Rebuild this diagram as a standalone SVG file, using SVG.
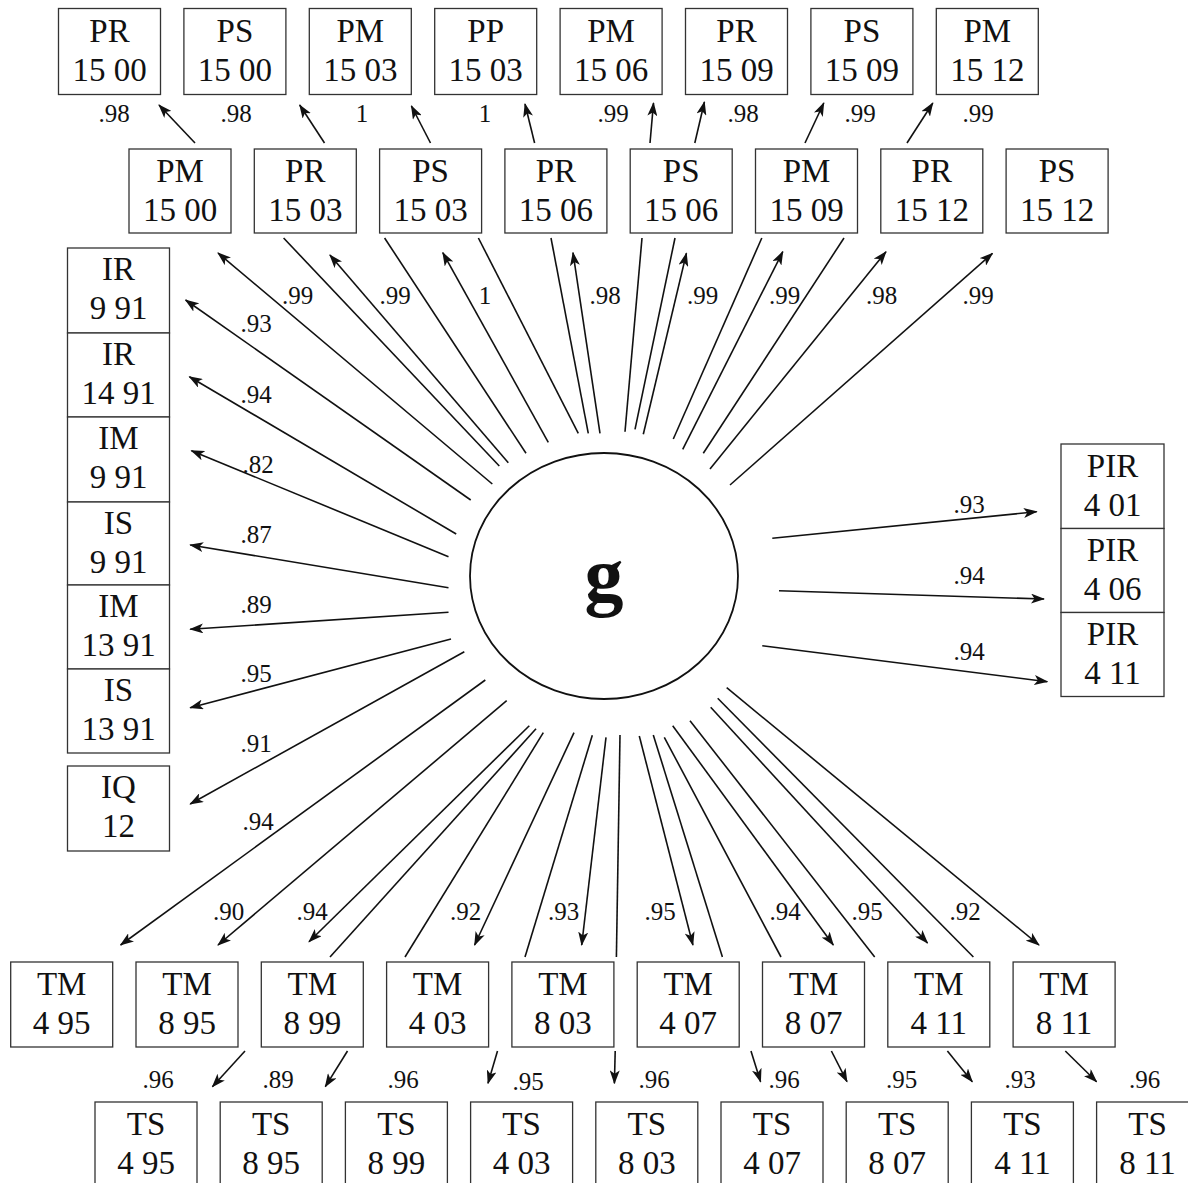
<svg xmlns="http://www.w3.org/2000/svg" width="1188" height="1183" viewBox="0 0 1188 1183">
  <style>
    .box { fill: #fff; stroke: #333; stroke-width: 1.3; }
    .nt { font-family: "Liberation Serif", "Times New Roman", serif; font-size: 33px; fill: #111; text-anchor: middle; }
    .lbl { font-family: "Liberation Serif", "Times New Roman", serif; font-size: 25px; fill: #111; text-anchor: middle; }
    .ln { stroke: #111; stroke-width: 1.6; fill: none; }
    .ar { stroke: #111; stroke-width: 1.6; fill: none; marker-end: url(#head); }
    .g { font-family: "Liberation Serif", "Times New Roman", serif; font-size: 78px; font-weight: bold; fill: #111; text-anchor: middle; }
  </style>
  <defs>
    <marker id="head" viewBox="0 0 14 10" refX="13" refY="5" markerWidth="14" markerHeight="10" markerUnits="userSpaceOnUse" orient="auto">
      <path d="M0,0 L14,5 L0,10 L3.5,5 z" fill="#111"/>
    </marker>
  </defs>
  <rect width="1188" height="1183" fill="#fff"/>

  <!-- connectors: from g outward -->
  <g id="connectors">
    <!-- up to the second top row (arrowed) and behind it (plain) -->
    <line class="ar" x1="492.3" y1="484" x2="218" y2="253"/>
    <line class="ln" x1="499.3" y1="466" x2="283.6" y2="238"/>
    <line class="ar" x1="508.3" y1="462.7" x2="329.9" y2="255"/>
    <line class="ln" x1="526" y1="453.3" x2="384.6" y2="238"/>
    <line class="ar" x1="548.3" y1="442.3" x2="442.8" y2="252.7"/>
    <line class="ln" x1="578.3" y1="433.3" x2="478.4" y2="238"/>
    <line class="ln" x1="588.3" y1="433.3" x2="551" y2="238"/>
    <line class="ar" x1="600" y1="433.3" x2="573" y2="252.7"/>
    <line class="ln" x1="625" y1="431.7" x2="642" y2="238"/>
    <line class="ln" x1="635" y1="429.3" x2="675" y2="238"/>
    <line class="ar" x1="643.3" y1="434.3" x2="686.4" y2="253.3"/>
    <line class="ln" x1="673.3" y1="439" x2="761.8" y2="238"/>
    <line class="ar" x1="682.7" y1="449.3" x2="782.8" y2="251.7"/>
    <line class="ln" x1="703.3" y1="453.3" x2="844" y2="238"/>
    <line class="ar" x1="710" y1="469" x2="886" y2="251.7"/>
    <line class="ar" x1="730" y1="485" x2="992.5" y2="253.3"/>
    <!-- short arrows to the top row -->
    <line class="ar" x1="195" y1="143" x2="159" y2="105"/>
    <line class="ar" x1="324.5" y1="143" x2="299.7" y2="105"/>
    <line class="ar" x1="430.5" y1="143" x2="411.4" y2="106"/>
    <line class="ar" x1="534.6" y1="143" x2="525" y2="104"/>
    <line class="ar" x1="650" y1="143" x2="653.5" y2="103"/>
    <line class="ar" x1="694.8" y1="143" x2="704.4" y2="102"/>
    <line class="ar" x1="805" y1="143" x2="823.8" y2="103"/>
    <line class="ar" x1="907" y1="143" x2="932.8" y2="103"/>
    <!-- left column -->
    <line class="ar" x1="470.7" y1="500" x2="185.6" y2="300"/>
    <line class="ar" x1="456.2" y1="534" x2="189.4" y2="376.7"/>
    <line class="ar" x1="448.5" y1="556.7" x2="191.4" y2="450.7"/>
    <line class="ar" x1="448.5" y1="587.7" x2="190.2" y2="545"/>
    <line class="ar" x1="448.5" y1="612.3" x2="190.2" y2="629.3"/>
    <line class="ar" x1="451" y1="639" x2="190.2" y2="707.7"/>
    <line class="ar" x1="464.3" y1="651.7" x2="190.2" y2="804"/>
    <!-- right column -->
    <line class="ar" x1="772.3" y1="538.3" x2="1036.7" y2="511.7"/>
    <line class="ar" x1="779" y1="590.7" x2="1044" y2="599"/>
    <line class="ar" x1="762.3" y1="645.7" x2="1047.3" y2="681.7"/>
    <!-- down to the TM row (arrowed) and behind it (plain) -->
    <line class="ar" x1="485.3" y1="680" x2="120.6" y2="945"/>
    <line class="ar" x1="506.7" y1="700.7" x2="218" y2="945"/>
    <line class="ar" x1="529.3" y1="725.7" x2="309" y2="941.7"/>
    <line class="ln" x1="536" y1="728.7" x2="330" y2="957"/>
    <line class="ln" x1="543.3" y1="732.7" x2="405" y2="957"/>
    <line class="ar" x1="574" y1="732.7" x2="474.6" y2="945"/>
    <line class="ln" x1="592.3" y1="735.3" x2="525" y2="957"/>
    <line class="ar" x1="606" y1="737.3" x2="581.7" y2="945"/>
    <line class="ln" x1="620" y1="735" x2="616.4" y2="957"/>
    <line class="ar" x1="639.3" y1="736" x2="692.9" y2="945"/>
    <line class="ln" x1="653.3" y1="735" x2="722.4" y2="957"/>
    <line class="ln" x1="664.3" y1="737.3" x2="781" y2="957"/>
    <line class="ar" x1="672.7" y1="725.7" x2="833.3" y2="945"/>
    <line class="ln" x1="690" y1="720.7" x2="874.7" y2="957"/>
    <line class="ar" x1="710.7" y1="707.3" x2="927.5" y2="943"/>
    <line class="ln" x1="717.7" y1="698.3" x2="973.4" y2="957"/>
    <line class="ar" x1="726.7" y1="687.7" x2="1039" y2="945"/>
    <!-- short arrows to the TS row -->
    <line class="ar" x1="245" y1="1051" x2="212.4" y2="1086.7"/>
    <line class="ar" x1="347.5" y1="1051" x2="325.3" y2="1086.7"/>
    <line class="ar" x1="497.5" y1="1051" x2="488" y2="1083.3"/>
    <line class="ar" x1="615.2" y1="1051" x2="614.4" y2="1083.3"/>
    <line class="ar" x1="751" y1="1051" x2="760.6" y2="1081.7"/>
    <line class="ar" x1="831.4" y1="1051" x2="847" y2="1081.7"/>
    <line class="ar" x1="947.4" y1="1051" x2="972.3" y2="1081.7"/>
    <line class="ar" x1="1065.3" y1="1051" x2="1096.6" y2="1081.7"/>
  </g>

  <!-- loadings -->
  <g id="loadings">
    <text class="lbl" x="114" y="122">.98</text>
    <text class="lbl" x="236" y="122">.98</text>
    <text class="lbl" x="362" y="122">1</text>
    <text class="lbl" x="485" y="122">1</text>
    <text class="lbl" x="613" y="122">.99</text>
    <text class="lbl" x="743" y="122">.98</text>
    <text class="lbl" x="860" y="122">.99</text>
    <text class="lbl" x="978" y="122">.99</text>

    <text class="lbl" x="297.5" y="304">.99</text>
    <text class="lbl" x="395" y="304">.99</text>
    <text class="lbl" x="485" y="304">1</text>
    <text class="lbl" x="605" y="304">.98</text>
    <text class="lbl" x="702.5" y="304">.99</text>
    <text class="lbl" x="784.5" y="304">.99</text>
    <text class="lbl" x="881.5" y="304">.98</text>
    <text class="lbl" x="978" y="304">.99</text>

    <text class="lbl" x="256" y="332">.93</text>
    <text class="lbl" x="256" y="403">.94</text>
    <text class="lbl" x="258" y="473">.82</text>
    <text class="lbl" x="256" y="543">.87</text>
    <text class="lbl" x="256" y="613">.89</text>
    <text class="lbl" x="256" y="682">.95</text>
    <text class="lbl" x="256" y="752">.91</text>
    <text class="lbl" x="258" y="830">.94</text>

    <text class="lbl" x="969" y="513">.93</text>
    <text class="lbl" x="969" y="584">.94</text>
    <text class="lbl" x="969" y="660">.94</text>

    <text class="lbl" x="228.5" y="920">.90</text>
    <text class="lbl" x="312" y="920">.94</text>
    <text class="lbl" x="465.5" y="920">.92</text>
    <text class="lbl" x="563.5" y="920">.93</text>
    <text class="lbl" x="660" y="920">.95</text>
    <text class="lbl" x="785" y="920">.94</text>
    <text class="lbl" x="867" y="920">.95</text>
    <text class="lbl" x="965" y="920">.92</text>

    <text class="lbl" x="158" y="1088">.96</text>
    <text class="lbl" x="278" y="1088">.89</text>
    <text class="lbl" x="403" y="1088">.96</text>
    <text class="lbl" x="528" y="1090">.95</text>
    <text class="lbl" x="654" y="1088">.96</text>
    <text class="lbl" x="784" y="1088">.96</text>
    <text class="lbl" x="901.5" y="1088">.95</text>
    <text class="lbl" x="1020" y="1088">.93</text>
    <text class="lbl" x="1144.5" y="1088">.96</text>
  </g>

  <!-- general factor -->
  <g id="g-factor">
    <ellipse cx="604" cy="576" rx="134" ry="123" fill="#fff" stroke="#111" stroke-width="1.8"/>
    <text class="g" x="604" y="601">g</text>
  </g>

  <!-- top row -->
  <g id="PR-15-00"><rect class="box" x="58.5" y="8.5" width="102" height="86"/><text class="nt" x="109.5" y="41.5">PR</text><text class="nt" x="109.5" y="80.5">15 00</text></g>
  <g id="PS-15-00"><rect class="box" x="183.9" y="8.5" width="102" height="86"/><text class="nt" x="234.9" y="41.5">PS</text><text class="nt" x="234.9" y="80.5">15 00</text></g>
  <g id="PM-15-03"><rect class="box" x="309.3" y="8.5" width="102" height="86"/><text class="nt" x="360.3" y="41.5">PM</text><text class="nt" x="360.3" y="80.5">15 03</text></g>
  <g id="PP-15-03"><rect class="box" x="434.7" y="8.5" width="102" height="86"/><text class="nt" x="485.7" y="41.5">PP</text><text class="nt" x="485.7" y="80.5">15 03</text></g>
  <g id="PM-15-06"><rect class="box" x="560.1" y="8.5" width="102" height="86"/><text class="nt" x="611.1" y="41.5">PM</text><text class="nt" x="611.1" y="80.5">15 06</text></g>
  <g id="PR-15-09"><rect class="box" x="685.5" y="8.5" width="102" height="86"/><text class="nt" x="736.5" y="41.5">PR</text><text class="nt" x="736.5" y="80.5">15 09</text></g>
  <g id="PS-15-09"><rect class="box" x="810.9" y="8.5" width="102" height="86"/><text class="nt" x="861.9" y="41.5">PS</text><text class="nt" x="861.9" y="80.5">15 09</text></g>
  <g id="PM-15-12"><rect class="box" x="936.3" y="8.5" width="102" height="86"/><text class="nt" x="987.3" y="41.5">PM</text><text class="nt" x="987.3" y="80.5">15 12</text></g>

  <!-- second row -->
  <g id="PM-15-00"><rect class="box" x="129" y="149" width="102" height="84"/><text class="nt" x="180" y="182">PM</text><text class="nt" x="180" y="221">15 00</text></g>
  <g id="PR-15-03"><rect class="box" x="254.3" y="149" width="102" height="84"/><text class="nt" x="305.3" y="182">PR</text><text class="nt" x="305.3" y="221">15 03</text></g>
  <g id="PS-15-03"><rect class="box" x="379.6" y="149" width="102" height="84"/><text class="nt" x="430.6" y="182">PS</text><text class="nt" x="430.6" y="221">15 03</text></g>
  <g id="PR-15-06"><rect class="box" x="504.9" y="149" width="102" height="84"/><text class="nt" x="555.9" y="182">PR</text><text class="nt" x="555.9" y="221">15 06</text></g>
  <g id="PS-15-06"><rect class="box" x="630.2" y="149" width="102" height="84"/><text class="nt" x="681.2" y="182">PS</text><text class="nt" x="681.2" y="221">15 06</text></g>
  <g id="PM-15-09"><rect class="box" x="755.5" y="149" width="102" height="84"/><text class="nt" x="806.5" y="182">PM</text><text class="nt" x="806.5" y="221">15 09</text></g>
  <g id="PR-15-12"><rect class="box" x="880.8" y="149" width="102" height="84"/><text class="nt" x="931.8" y="182">PR</text><text class="nt" x="931.8" y="221">15 12</text></g>
  <g id="PS-15-12"><rect class="box" x="1006.1" y="149" width="102" height="84"/><text class="nt" x="1057.1" y="182">PS</text><text class="nt" x="1057.1" y="221">15 12</text></g>

  <!-- left column -->
  <g id="IR-9-91"><rect class="box" x="67.5" y="248" width="102" height="85"/><text class="nt" x="118.5" y="280">IR</text><text class="nt" x="118.5" y="319">9 91</text></g>
  <g id="IR-14-91"><rect class="box" x="67.5" y="333" width="102" height="84"/><text class="nt" x="118.5" y="365">IR</text><text class="nt" x="118.5" y="404">14 91</text></g>
  <g id="IM-9-91"><rect class="box" x="67.5" y="417" width="102" height="85"/><text class="nt" x="118.5" y="449">IM</text><text class="nt" x="118.5" y="488">9 91</text></g>
  <g id="IS-9-91"><rect class="box" x="67.5" y="502" width="102" height="83"/><text class="nt" x="118.5" y="534">IS</text><text class="nt" x="118.5" y="573">9 91</text></g>
  <g id="IM-13-91"><rect class="box" x="67.5" y="585" width="102" height="84"/><text class="nt" x="118.5" y="617">IM</text><text class="nt" x="118.5" y="656">13 91</text></g>
  <g id="IS-13-91"><rect class="box" x="67.5" y="669" width="102" height="84"/><text class="nt" x="118.5" y="701">IS</text><text class="nt" x="118.5" y="740">13 91</text></g>
  <g id="IQ-12"><rect class="box" x="67.5" y="766" width="102" height="85"/><text class="nt" x="118.5" y="798">IQ</text><text class="nt" x="118.5" y="837">12</text></g>

  <!-- right column -->
  <g id="PIR-4-01"><rect class="box" x="1061" y="444" width="103" height="84.5"/><text class="nt" x="1112.5" y="477">PIR</text><text class="nt" x="1112.5" y="516">4 01</text></g>
  <g id="PIR-4-06"><rect class="box" x="1061" y="528.5" width="103" height="84"/><text class="nt" x="1112.5" y="561">PIR</text><text class="nt" x="1112.5" y="600">4 06</text></g>
  <g id="PIR-4-11"><rect class="box" x="1061" y="612.5" width="103" height="84"/><text class="nt" x="1112.5" y="645">PIR</text><text class="nt" x="1112.5" y="684">4 11</text></g>

  <!-- TM row -->
  <g id="TM-4-95"><rect class="box" x="10.7" y="962" width="102" height="85"/><text class="nt" x="61.7" y="995">TM</text><text class="nt" x="61.7" y="1034">4 95</text></g>
  <g id="TM-8-95"><rect class="box" x="136" y="962" width="102" height="85"/><text class="nt" x="187" y="995">TM</text><text class="nt" x="187" y="1034">8 95</text></g>
  <g id="TM-8-99"><rect class="box" x="261.3" y="962" width="102" height="85"/><text class="nt" x="312.3" y="995">TM</text><text class="nt" x="312.3" y="1034">8 99</text></g>
  <g id="TM-4-03"><rect class="box" x="386.6" y="962" width="102" height="85"/><text class="nt" x="437.6" y="995">TM</text><text class="nt" x="437.6" y="1034">4 03</text></g>
  <g id="TM-8-03"><rect class="box" x="511.9" y="962" width="102" height="85"/><text class="nt" x="562.9" y="995">TM</text><text class="nt" x="562.9" y="1034">8 03</text></g>
  <g id="TM-4-07"><rect class="box" x="637.2" y="962" width="102" height="85"/><text class="nt" x="688.2" y="995">TM</text><text class="nt" x="688.2" y="1034">4 07</text></g>
  <g id="TM-8-07"><rect class="box" x="762.5" y="962" width="102" height="85"/><text class="nt" x="813.5" y="995">TM</text><text class="nt" x="813.5" y="1034">8 07</text></g>
  <g id="TM-4-11"><rect class="box" x="887.8" y="962" width="102" height="85"/><text class="nt" x="938.8" y="995">TM</text><text class="nt" x="938.8" y="1034">4 11</text></g>
  <g id="TM-8-11"><rect class="box" x="1013.1" y="962" width="102" height="85"/><text class="nt" x="1064.1" y="995">TM</text><text class="nt" x="1064.1" y="1034">8 11</text></g>

  <!-- TS row -->
  <g id="TS-4-95"><rect class="box" x="95" y="1102" width="102" height="86"/><text class="nt" x="146" y="1135">TS</text><text class="nt" x="146" y="1174">4 95</text></g>
  <g id="TS-8-95"><rect class="box" x="220.2" y="1102" width="102" height="86"/><text class="nt" x="271.2" y="1135">TS</text><text class="nt" x="271.2" y="1174">8 95</text></g>
  <g id="TS-8-99"><rect class="box" x="345.4" y="1102" width="102" height="86"/><text class="nt" x="396.4" y="1135">TS</text><text class="nt" x="396.4" y="1174">8 99</text></g>
  <g id="TS-4-03"><rect class="box" x="470.6" y="1102" width="102" height="86"/><text class="nt" x="521.6" y="1135">TS</text><text class="nt" x="521.6" y="1174">4 03</text></g>
  <g id="TS-8-03"><rect class="box" x="595.8" y="1102" width="102" height="86"/><text class="nt" x="646.8" y="1135">TS</text><text class="nt" x="646.8" y="1174">8 03</text></g>
  <g id="TS-4-07"><rect class="box" x="721" y="1102" width="102" height="86"/><text class="nt" x="772" y="1135">TS</text><text class="nt" x="772" y="1174">4 07</text></g>
  <g id="TS-8-07"><rect class="box" x="846.2" y="1102" width="102" height="86"/><text class="nt" x="897.2" y="1135">TS</text><text class="nt" x="897.2" y="1174">8 07</text></g>
  <g id="TS-4-11"><rect class="box" x="971.4" y="1102" width="102" height="86"/><text class="nt" x="1022.4" y="1135">TS</text><text class="nt" x="1022.4" y="1174">4 11</text></g>
  <g id="TS-8-11"><rect class="box" x="1096.6" y="1102" width="102" height="86"/><text class="nt" x="1147.6" y="1135">TS</text><text class="nt" x="1147.6" y="1174">8 11</text></g>
</svg>
